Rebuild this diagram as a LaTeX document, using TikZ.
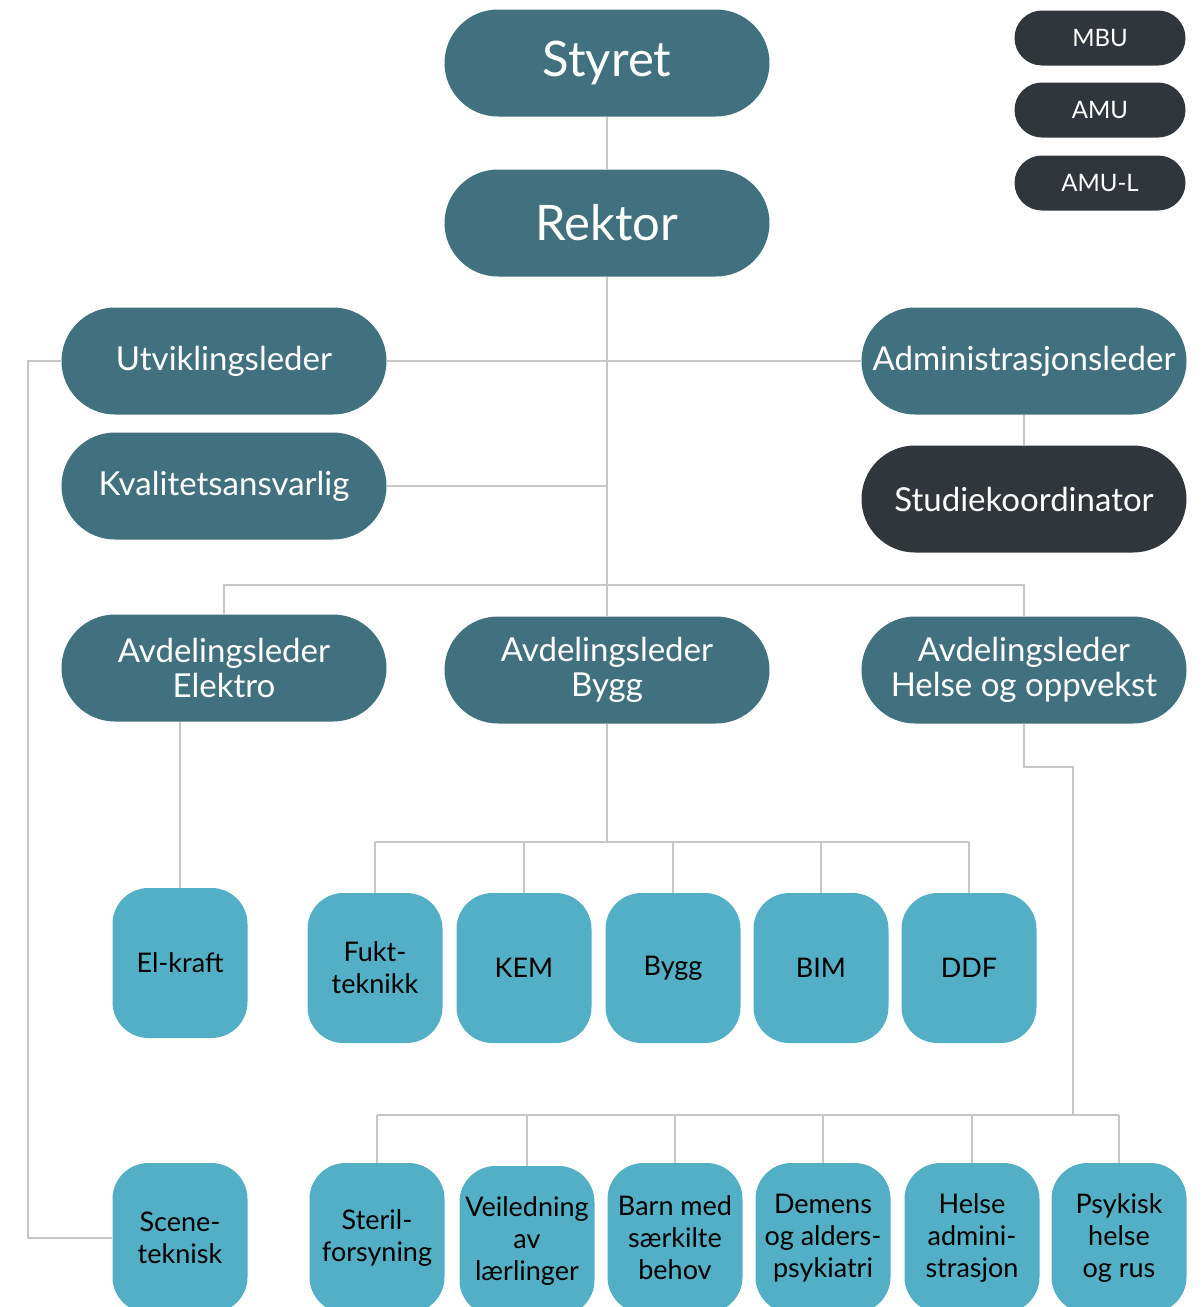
\documentclass[tikz,border=0pt]{standalone}
\usepackage{fontspec}
\setmainfont{Lato}
\usetikzlibrary{positioning}

\definecolor{petrol}{HTML}{41717F}
\definecolor{coal}{HTML}{31363D}
\definecolor{turkis}{HTML}{52AFC5}
\definecolor{strek}{HTML}{C6C6C6}

\tikzset{
  leder/.style={rectangle, rounded corners=26.75pt, fill=petrol, text=white,
    minimum width=162.5pt, minimum height=53.5pt, inner sep=0pt, align=center,
    font=\fontsize{16.5}{17.5}\selectfont},
  topp/.style={leder, font=\fontsize{24.5}{27}\selectfont},
  mork/.style={leder, fill=coal},
  utvalg/.style={rectangle, rounded corners=13.75pt, fill=coal, text=white,
    minimum width=85.5pt, minimum height=27.5pt, inner sep=0pt,
    font=\fontsize{12}{14}\selectfont},
  fag/.style={rectangle, rounded corners=18pt, fill=turkis, text=black,
    minimum width=67.5pt, minimum height=75pt, inner sep=0pt, align=center,
    font=\fontsize{13.5}{16}\selectfont},
  linje/.style={draw=strek, line width=1pt},
}

\begin{document}
\begin{tikzpicture}[x=0.5pt, y=-0.5pt]

  \useasboundingbox (0,0) rectangle (1204,1307);

  %% ledelse
  \node[topp] (styret) at (607,63) {Styret};
  \node[topp] (rektor) at (607,223) {Rektor};
  \node[leder] (utvikling) at (224,361) {Utviklingsleder};
  \node[leder] (kvalitet) at (224,486) {Kvalitetsansvarlig};
  \node[leder] (admin) at (1024,361) {Administrasjonsleder};
  \node[mork] (studie) at (1024,499) {Studiekoordinator};

  %% utvalg
  \node[utvalg] (mbu) at (1100,38) {MBU};
  \node[utvalg] (amu) at (1100,110) {AMU};
  \node[utvalg] (amul) at (1100,183) {AMU-L};

  %% avdelinger
  \node[leder] (elektro) at (224,668) {Avdelingsleder\\Elektro};
  \node[leder] (bygg) at (607,670) {Avdelingsleder\\Bygg};
  \node[leder] (helse) at (1024,670) {Avdelingsleder\\Helse og oppvekst};

  %% fag
  \node[fag] (elkraft) at (180,963) {El-kraft};
  \node[fag] (fukt) at (375,968) {Fukt-\\teknikk};
  \node[fag] (kem) at (524,968) {KEM};
  \node[fag] (byggfag) at (673,968) {Bygg};
  \node[fag] (bim) at (821,968) {BIM};
  \node[fag] (ddf) at (969,968) {DDF};

  \node[fag] (scene) at (180,1238) {Scene-\\teknisk};
  \node[fag] (steril) at (377,1238) {Steril-\\forsyning};
  \node[fag] (veiledning) at (527,1241) {Veiledning\\av\\lærlinger};
  \node[fag] (barn) at (675,1238) {Barn med\\særkilte\\behov};
  \node[fag] (demens) at (823,1238) {Demens\\og alders-\\psykiatri};
  \node[fag] (helseadm) at (972,1238) {Helse\\admini-\\strasjon};
  \node[fag] (psykisk) at (1119,1238) {Psykisk\\helse\\og rus};

  %% linjer
  \coordinate (avdbar) at (607,585);
  \coordinate (byggbar) at (607,842);
  \coordinate (helseknekk) at (1073,767);
  \coordinate (helsebar) at (1073,1115);
  \coordinate (venstre) at (28,361);

  \draw[linje] (styret) -- (rektor);
  \draw[linje] (rektor.south) -- (bygg.north);
  \draw[linje] (utvikling.east) -- (admin.west);
  \draw[linje] (kvalitet.east) -- (kvalitet.east -| rektor.south);
  \draw[linje] (admin) -- (studie);
  \draw[linje] (elektro.north) |- (avdbar) -| (helse.north);

  \draw[linje] (elkraft.north) -- (elkraft.north |- elektro.south);

  \draw[linje] (bygg.south) -- (byggbar);
  \draw[linje] (fukt.north |- byggbar) -- (ddf.north |- byggbar);
  \foreach \n in {fukt,kem,byggfag,bim,ddf}
    \draw[linje] (\n.north) -- (\n.north |- byggbar);

  \draw[linje] (helse.south) |- (helseknekk) -- (helsebar);
  \draw[linje] (steril.north |- helsebar) -- (psykisk.north |- helsebar);
  \foreach \n in {steril,veiledning,barn,demens,helseadm,psykisk}
    \draw[linje] (\n.north) -- (\n.north |- helsebar);

  \draw[linje] (utvikling.west) -- (venstre) |- (scene.west);

\end{tikzpicture}
\end{document}
